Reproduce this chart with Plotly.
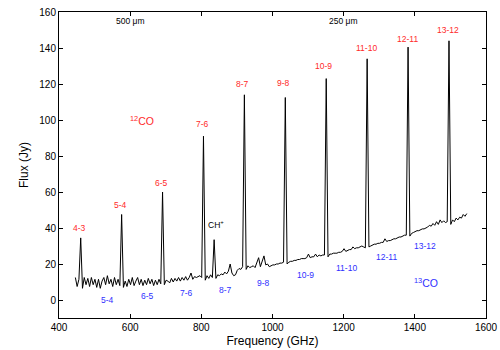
import plotly.graph_objects as go

# spectrum (GHz, Jy)
freq = [
    446, 451, 456, 461, 466, 471, 476, 481, 486, 491,
    496, 501, 506, 511, 516, 521, 526, 531, 536, 541,
    546, 551, 556, 561, 566, 571, 576, 581, 586, 591,
    596, 601, 606, 611, 616, 621, 626, 631, 636, 641,
    646, 651, 656, 661, 666, 671, 676, 681, 686, 691,
    696, 701, 706, 711, 716, 721, 726, 731, 736, 741,
    746, 751, 756, 761, 766, 771, 776, 781, 786, 791,
    796, 801, 806, 811, 816, 821, 826, 831, 836, 841,
    846, 851, 856, 861, 866, 871, 876, 881, 886, 891,
    896, 901, 906, 911, 916, 921, 926, 931, 936, 941,
    946, 951, 956, 961, 966, 971, 976, 981, 986, 991,
    996, 1001, 1006, 1011, 1016, 1021, 1026, 1031, 1036, 1041,
    1046, 1051, 1056, 1061, 1066, 1071, 1076, 1081, 1086, 1091,
    1096, 1101, 1106, 1111, 1116, 1121, 1126, 1131, 1136, 1141,
    1146, 1151, 1156, 1161, 1166, 1171, 1176, 1181, 1186, 1191,
    1196, 1201, 1206, 1211, 1216, 1221, 1226, 1231, 1236, 1241,
    1246, 1251, 1256, 1261, 1266, 1271, 1276, 1281, 1286, 1291,
    1296, 1301, 1306, 1311, 1316, 1321, 1326, 1331, 1336, 1341,
    1346, 1351, 1356, 1361, 1366, 1371, 1376, 1381, 1386, 1391,
    1396, 1401, 1406, 1411, 1416, 1421, 1426, 1431, 1436, 1441,
    1446, 1451, 1456, 1461, 1466, 1471, 1476, 1481, 1486, 1491,
    1496, 1501, 1506, 1511, 1516, 1521, 1526, 1531, 1536, 1541,
    1546,
]
flux = [
    12.5, 7.5, 11.5, 34.5, 6.5, 12.5, 8.5, 12, 7.5, 12.5,
    8.5, 11.5, 7, 11.5, 6.5, 10.5, 12.5, 8.5, 13.5, 9,
    11.5, 7.5, 12.5, 8.5, 11.5, 8, 47.5, 7, 10.5, 7.5,
    11.5, 8.5, 12.5, 8, 10.5, 12.5, 8.5, 11.5, 8, 11,
    8.5, 12, 9, 11.5, 8, 11, 8.5, 11.5, 9, 60,
    8.5, 11, 10.5, 9.5, 12, 10, 12, 10.5, 12.5, 10.5,
    12.5, 11, 13, 11, 12.5, 15, 11.5, 13, 12.5, 13,
    13.5, 12.5, 91, 11, 13.5, 12, 14, 12.5, 33.5, 12,
    14, 13.5, 14.5, 14, 15.5, 14.5, 16, 20, 15, 13.5,
    14, 16.5, 17.5, 17, 18.5, 114, 17, 19, 18, 18.5,
    19, 18, 20.5, 23.5, 18.5, 21.5, 24.5, 19.5, 20, 18.5,
    19, 19.5, 19.5, 20, 20, 20.5, 20.5, 21, 112.5, 20,
    21, 21.5, 21.5, 22, 22, 22.5, 22.5, 23, 23, 23,
    23.5, 25.5, 23.5, 24, 24, 25.5, 24, 25, 24.5, 25,
    25, 123, 24, 25.5, 25.5, 26, 26, 26, 26.5, 26.5,
    27, 28.5, 27, 27.5, 28, 28, 29.5, 28.5, 29, 29,
    29.5, 30, 29.5, 29, 134, 29.5, 30, 30.5, 31, 31,
    31.5, 31.5, 32, 32, 34, 32.5, 33, 33, 33.5, 34,
    34, 34.5, 35, 35, 35.5, 36, 36, 140.5, 35.5, 37,
    37.5, 38, 38.5, 38.5, 39, 39.5, 39.5, 40, 40.5, 41.5,
    41, 42.5, 41.5, 43.5, 42, 44.5, 43, 44, 43, 43.5,
    144, 42, 44.5, 43.5, 45.5, 44.5, 46, 45.5, 47.5, 46.5,
    48,
]

# 12CO line labels (red) above the peaks
co12_labels = ["4-3", "5-4", "6-5", "7-6", "8-7", "9-8", "10-9", "11-10", "12-11", "13-12"]
co12_x = [459, 573, 689, 803, 917, 1032, 1143, 1264, 1378, 1494]
co12_y = [40, 53, 65, 98, 120, 120.5, 130, 140, 145, 150]

# 13CO line labels (blue) below the continuum
co13_labels = ["5-4", "6-5", "7-6", "8-7", "9-8", "10-9", "11-10", "12-11", "13-12"]
co13_x = [537, 649, 758, 867, 976, 1093, 1209, 1319, 1428]
co13_y = [0, 2, 3.7, 5.7, 9.6, 14, 18, 24, 30]

# wavelength marks on the top axis
wl_labels = ["500 μm", "250 μm"]
wl_x = [600, 1200]

RED = "#ff2a2a"
BLUE = "#3030ff"
FONT = "Liberation Sans, Arial, sans-serif"

fig = go.Figure()
fig.add_trace(go.Scatter(x=freq, y=flux, mode="lines",
                         line=dict(color="black", width=1),
                         showlegend=False, hoverinfo="skip"))

annots = []
for t, x, y in zip(co12_labels, co12_x, co12_y):
    annots.append(dict(x=x, y=y, text=t, font=dict(color=RED, size=8.5)))
for t, x, y in zip(co13_labels, co13_x, co13_y):
    annots.append(dict(x=x, y=y, text=t, font=dict(color=BLUE, size=8.5)))
for t, x in zip(wl_labels, wl_x):
    annots.append(dict(x=x, y=155, text=t, font=dict(color="black", size=8.5)))
annots.append(dict(x=633, y=100, text="<sup>12</sup>CO", font=dict(color=RED, size=10.5)))
annots.append(dict(x=1430, y=10, text="<sup>13</sup>CO", font=dict(color=BLUE, size=10.5)))
annots.append(dict(x=842, y=41.7, text="CH<sup>+</sup>", font=dict(color="black", size=8.5)))
for a in annots:
    a.update(xref="x", yref="y", showarrow=False, xanchor="center", yanchor="middle")

axis_common = dict(showline=True, linecolor="black", linewidth=1, mirror="ticks",
                   ticks="inside", ticklen=4, tickcolor="black", showgrid=False,
                   zeroline=False, automargin=False,
                   tickfont=dict(size=10, color="black"))

fig.update_layout(
    width=500, height=350,
    margin=dict(l=59, r=14, t=12, b=32),
    paper_bgcolor="white", plot_bgcolor="white",
    font=dict(family=FONT, color="black"),
    annotations=annots,
    xaxis=dict(range=[400, 1600], dtick=200, tick0=400,
               title=dict(text="Frequency (GHz)", font=dict(size=12), standoff=4),
               **axis_common),
    yaxis=dict(range=[-10, 160], dtick=20, tick0=0,
               title=dict(text="Flux (Jy)", font=dict(size=12), standoff=8),
               **axis_common),
)

# drop the default page margin so the figure sits at the window's corner
fig.write_html("out.html", config={"displayModeBar": False},
               post_script="document.body.style.margin='0';")
